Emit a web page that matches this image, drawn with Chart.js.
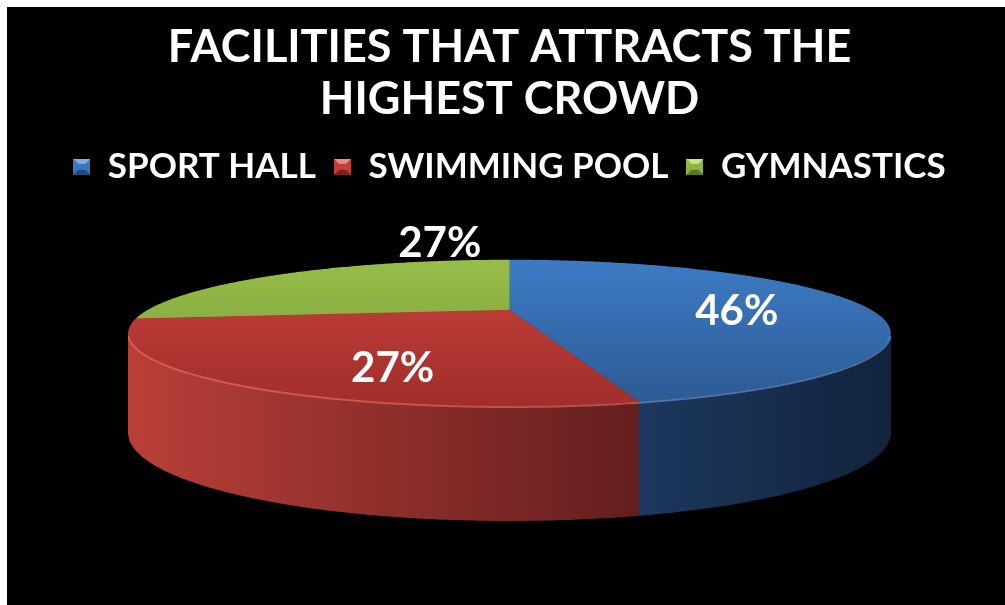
<!DOCTYPE html>
<html>
<head>
<meta charset="utf-8">
<script src="https://cdn.jsdelivr.net/npm/chart.js@4.4.1/dist/chart.umd.min.js"></script>
<style>
  html, body { margin: 0; padding: 0; background: #ffffff; width: 1005px; height: 605px; overflow: hidden; }
  #wrap { position: absolute; left: 7px; top: 7px; width: 998px; height: 598px; background: #000000; }
</style>
</head>
<body>
<div id="wrap"><canvas id="c"></canvas></div>
<script>
// ---- data ----
const titleLines = ['FACILITIES THAT ATTRACTS THE', 'HIGHEST CROWD'];
const categories = ['SPORT HALL', 'SWIMMING POOL', 'GYMNASTICS'];
const values = [46, 27, 27];
const percentLabels = ['46%', '27%', '27%'];

// ---- styles ----
const FONT = 'Lato, "Open Sans", sans-serif';
const topColors = [['#3d7bc4', '#2c5a93'], ['#c9423c', '#a02e2a'], ['#97bd4a', '#789c38']];
const sideColors = [['#3a6bb0', '#1b365b', '#12233c'], ['#bb3f39', '#5f1d1d', '#4d1717'], ['#86ad3c', '#4b6320', '#3a4d18']];
const rimColors = ['rgba(120,170,235,0.55)', 'rgba(240,110,100,0.6)', 'rgba(180,215,110,0.5)'];
const legendColors = ['#3b76bd', '#c0403a', '#8fb43f'];
const legendLight = ['#7fb0ea', '#f08a82', '#cbe48a'];
const legendDark = ['#1f4a80', '#7e201c', '#5a7a22'];
// 3D look: horizontal radius vs plot width, tilt, perspective strength, depth
const RXF = 0.3648, TILT = 0.182, PERSP = 0.3165, DEPTH = 0.263;
// label placement (fraction of radius, vertical nudge); last one sits outside
const labelPlace = [{ f: 0.65, dy: 7 }, { f: 0.5, dy: 27 }, { outside: true, back: 0.15, dy: -18 }];

function geom(chart) {
  const ca = chart.chartArea;
  const rx = ca.width * RXF, ry = rx * TILT, depth = rx * DEPTH;
  const cx = (ca.left + ca.right) / 2;
  const front = 1 / (1 - PERSP);
  const cy = ca.bottom - depth * Math.sqrt(front) - ry * front;
  return { rx, ry, depth, cx, cy };
}
// project a point of the pie disc (angle a, radius fraction f) lowered by t (0 = top face, 1 = bottom)
function proj(g, a, f, t, dy) {
  const u = f * Math.cos(a), v = f * Math.sin(a);
  const s = 1 / (1 - PERSP * v);
  return [g.cx + g.rx * u * s, g.cy + g.ry * v * s + t * g.depth * Math.sqrt(s) + (dy || 0)];
}
function slicePath(ctx, g, el, t) {
  ctx.beginPath();
  const c = proj(g, 0, 0, t);
  ctx.moveTo(c[0], c[1]);
  const n = Math.max(8, Math.ceil((el.endAngle - el.startAngle) / 0.01));
  for (let k = 0; k <= n; k++) {
    const a = el.startAngle + (el.endAngle - el.startAngle) * k / n;
    const p = proj(g, a, 1, t);
    ctx.lineTo(p[0], p[1]);
  }
  ctx.closePath();
}
function bevelIcon(i) {
  const c = document.createElement('canvas');
  c.width = 17; c.height = 16;
  const x = c.getContext('2d');
  const w = 17, h = 16, b = 5;
  x.fillStyle = legendColors[i]; x.fillRect(0, 0, w, h);
  x.fillStyle = legendLight[i];
  x.beginPath(); x.moveTo(0, 0); x.lineTo(w, 0); x.lineTo(w - b, b); x.lineTo(b, b); x.closePath(); x.fill();
  x.fillStyle = legendDark[i];
  x.beginPath(); x.moveTo(0, h); x.lineTo(w, h); x.lineTo(w - b, h - b); x.lineTo(b, h - b); x.closePath(); x.fill();
  return c;
}

const pie3d = {
  id: 'pie3d',
  beforeDatasetsDraw(chart) {
    const ctx = chart.ctx;
    const g = geom(chart);
    const els = chart.getDatasetMeta(0).data;
    const left = g.cx - g.rx * 1.06, right = g.cx + g.rx * 1.06;
    const sideGrads = els.map((el, i) => {
      const gr = ctx.createLinearGradient(left, 0, right, 0);
      gr.addColorStop(0, sideColors[i][0]);
      gr.addColorStop(0.7, sideColors[i][1]);
      gr.addColorStop(1, sideColors[i][2]);
      return gr;
    });
    ctx.save();
    const N = Math.round(g.depth * 1.3);
    for (let k = N; k >= 1; k--) {
      els.forEach((el, i) => {
        slicePath(ctx, g, el, k / N);
        ctx.fillStyle = sideGrads[i];
        ctx.fill();
      });
    }
    const yTop = g.cy - g.ry / (1 + PERSP), yBot = g.cy + g.ry / (1 - PERSP);
    els.forEach((el, i) => {
      const gr = ctx.createLinearGradient(0, yTop, 0, yBot);
      gr.addColorStop(0, topColors[i][0]);
      gr.addColorStop(1, topColors[i][1]);
      slicePath(ctx, g, el, 0);
      ctx.fillStyle = gr;
      ctx.fill();
    });
    // soft highlight along the front rim of the top
    els.forEach((el, i) => {
      const s = Math.max(el.startAngle, 0.35), e = Math.min(el.endAngle, Math.PI - 0.35);
      if (e <= s) return;
      ctx.beginPath();
      const n = Math.ceil((e - s) / 0.01);
      for (let k = 0; k <= n; k++) {
        const p = proj(g, s + (e - s) * k / n, 1, 0, 1);
        if (k === 0) ctx.moveTo(p[0], p[1]); else ctx.lineTo(p[0], p[1]);
      }
      ctx.strokeStyle = rimColors[i];
      ctx.lineWidth = 2;
      ctx.stroke();
    });
    // percentage labels
    ctx.fillStyle = '#ffffff';
    ctx.font = 'bold 42px ' + FONT;
    ctx.textAlign = 'center';
    ctx.textBaseline = 'middle';
    els.forEach((el, i) => {
      const lp = labelPlace[i];
      const sweep = el.endAngle - el.startAngle;
      const p = lp.outside
        ? proj(g, el.endAngle - lp.back * sweep, 1, 0, lp.dy)
        : proj(g, el.startAngle + sweep / 2, lp.f, 0, lp.dy);
      ctx.fillText(percentLabels[i], p[0], p[1]);
    });
    ctx.restore();
    return false;
  }
};

const icons = categories.map((_, i) => bevelIcon(i));

new Chart(document.getElementById('c'), {
  type: 'pie',
  data: {
    labels: categories,
    datasets: [{ data: values, borderWidth: 0, backgroundColor: legendColors }]
  },
  options: {
    responsive: true,
    maintainAspectRatio: false,
    animation: false,
    events: [],
    layout: { padding: { left: 7, right: 0, top: 0, bottom: 84 } },
    plugins: {
      tooltip: { enabled: false },
      title: {
        display: true,
        text: titleLines,
        color: '#ffffff',
        font: { family: FONT, size: 45, weight: 'bold', lineHeight: 1.17 },
        padding: { top: 14, bottom: 5 }
      },
      legend: {
        display: true,
        position: 'top',
        labels: {
          color: '#ffffff',
          font: { family: FONT, size: 35, weight: 'bold' },
          boxWidth: 17,
          boxHeight: 16,
          padding: 18,
          usePointStyle: true,
          generateLabels: () => categories.map((t, i) => ({
            text: t, fillStyle: legendColors[i], strokeStyle: legendColors[i], lineWidth: 0,
            pointStyle: icons[i], fontColor: '#ffffff', hidden: false, index: i
          }))
        }
      }
    }
  },
  plugins: [pie3d]
});
</script>
</body>
</html>
